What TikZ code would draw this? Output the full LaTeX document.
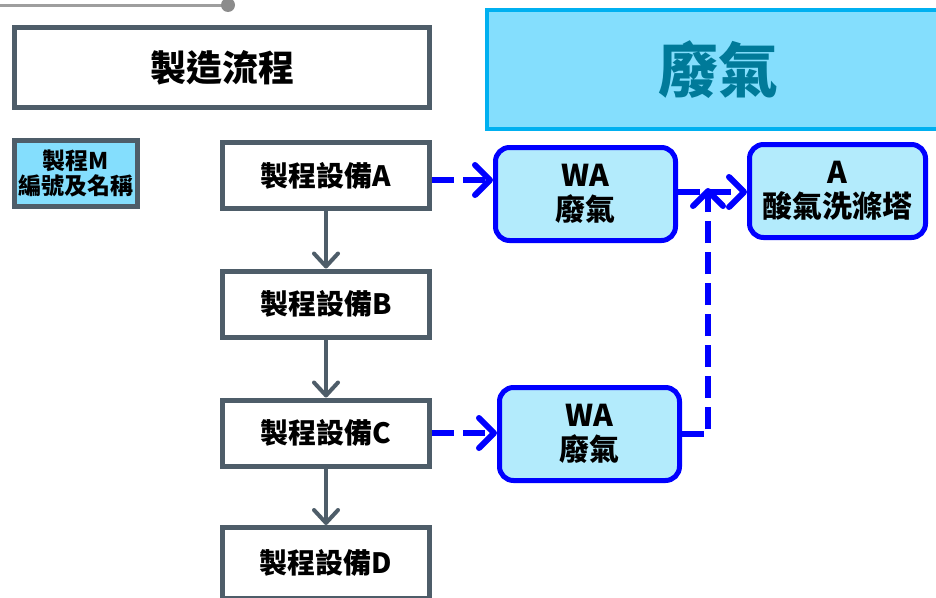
\documentclass[tikz,border=0pt]{standalone}
\usepackage{fontspec}
\setmainfont{Noto Sans CJK TC}
\usepackage{tikz}
\usepackage{xcolor}
\usetikzlibrary{arrows.meta}
\definecolor{slate}{HTML}{4E5D69}
\definecolor{skyfill}{HTML}{84DEFD}
\definecolor{skyedge}{HTML}{00B0F0}
\definecolor{skytext}{HTML}{007A99}
\definecolor{gasfill}{HTML}{B3EBFC}
\definecolor{gasedge}{HTML}{0000FF}
\tikzstyle{procbox} = [rectangle, draw=slate, line width=5pt, fill=white, font=\bfseries]
\tikzstyle{gasbox} = [rectangle, rounded corners=14pt, draw=gasedge, line width=5pt, fill=gasfill, align=center, font=\bfseries\fontsize{30}{34}\selectfont]

\begin{document}
\begin{tikzpicture}[x=1pt, y=-1pt]
			\tikzset{steparrow/.style={draw=slate, line width=4pt, -{Straight Barb[length=13pt, width=24pt, line width=4pt, round]}},
				gasline/.style={draw=gasedge, line width=6pt, dash pattern=on 22pt off 9pt, -{Straight Barb[length=15pt, width=30pt, line width=6pt, round]}}}
\useasboundingbox (0,0) rectangle (936,597);

\draw[color=black!38, line width=3pt] (0,5) -- (228,5);
\fill[black!45] (228,5) circle (7pt);

\node[procbox, minimum width=415pt, minimum height=80pt, font=\bfseries\fontsize{36}{42}\selectfont] (flow) at (222,67.5) {\raisebox{3pt}{製造流程}};
\node[rectangle, draw=skyedge, line width=4pt, fill=skyfill, minimum width=462pt, minimum height=119pt, text=skytext, font=\bfseries\fontsize{60}{68}\selectfont] (waste) at (718,69.5) {廢氣};
\node[procbox, fill=skyfill, minimum width=123pt, minimum height=66pt, align=center, font=\bfseries\fontsize{23}{25}\selectfont] (legend) at (76,173.5) {製程M\\編號及名稱};

\node[procbox, minimum width=207pt, minimum height=66pt, font=\bfseries\fontsize{28}{31}\selectfont] (eqA) at (326,175.5) {製程設備A};
\node[procbox, minimum width=207pt, minimum height=66pt, font=\bfseries\fontsize{28}{31}\selectfont] (eqB) at (326,304) {製程設備B};
\node[procbox, minimum width=207pt, minimum height=66pt, font=\bfseries\fontsize{28}{31}\selectfont] (eqC) at (326,433) {製程設備C};
\node[procbox, minimum width=207pt, minimum height=71pt, font=\bfseries\fontsize{28}{31}\selectfont] (eqD) at (326,563) {製程設備D};

\node[gasbox, minimum width=180pt, minimum height=93pt] (wa1) at (585.5,194) {WA\\廢氣};
\node[gasbox, minimum width=180pt, minimum height=93pt] (wa2) at (589.5,434) {WA\\廢氣};
\node[gasbox, minimum width=176pt, minimum height=93pt] (scrub) at (837.5,191) {A\\酸氣洗滌塔};

\foreach \from/\to in {eqA/eqB,eqB/eqC,eqC/eqD}
{
	\draw[steparrow] (\from.south) -- (\to.north);
}

\coordinate (rise) at (708,188);
\draw[gasline] (eqA.east |- 0,180) -- (wa1.west |- 0,180);
\draw[gasline] (eqC.east) -- (wa2.west |- eqC.east);
\draw[gasline] (wa1.east |- 0,192) -- (scrub.west |- 0,192);
\draw[gasline] (wa2.east) -| (rise);

		\end{tikzpicture}
\end{document}
